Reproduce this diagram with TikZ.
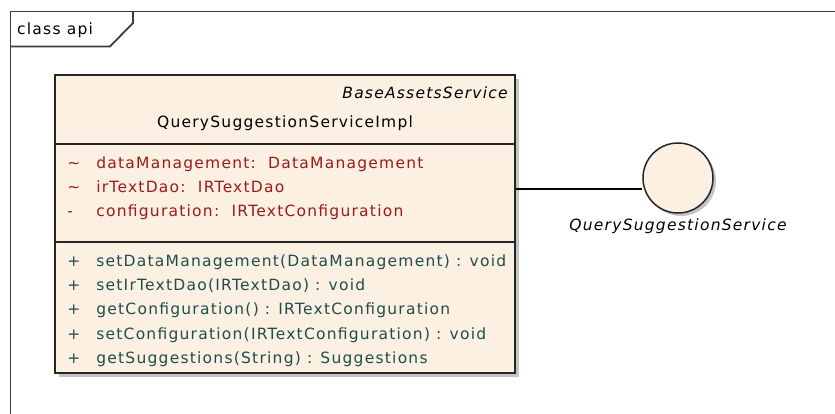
\documentclass[tikz,border=0pt]{standalone}
\usepackage{fontspec}
\setmainfont{DejaVu Sans}[LetterSpace=8]
\usepackage{tikz}
\usepackage{xcolor}
\usetikzlibrary{positioning,calc,shadows}
\definecolor{Frame}{HTML}{3C3C3C}
\definecolor{Cream}{HTML}{FBF0E1}
\definecolor{AttrRed}{HTML}{9E1A1A}
\definecolor{OpTeal}{HTML}{1E4E4C}
\definecolor{ShadowGrey}{HTML}{C4C4C4}

\begin{document}
\begin{tikzpicture}[
  x=1pt,y=-1pt,
  frame/.style={draw=Frame,line width=1.8pt},
  classbox/.style={draw=black!85,fill=Cream,line width=1.8pt,minimum width=460pt,minimum height=298pt,inner sep=0pt,
    drop shadow={shadow xshift=4pt,shadow yshift=-4pt,fill=ShadowGrey,opacity=1}},
  divider/.style={draw=black!85,line width=1.4pt},
  stereo/.style={inner sep=0pt,font=\fontsize{15.5}{18}\selectfont\itshape},
  clsname/.style={inner sep=0pt,font=\fontsize{15.5}{18}\selectfont},
  attr/.style={inner sep=0pt,minimum height=24pt,text height=11pt,text depth=3pt,text=AttrRed,font=\fontsize{15.5}{18}\selectfont},
  oper/.style={inner sep=0pt,minimum height=24pt,text height=11pt,text depth=3pt,text=OpTeal,font=\fontsize{15.5}{18}\selectfont},
  iface/.style={circle,draw=black!85,fill=Cream,line width=1.5pt,minimum size=70pt,inner sep=0pt,
    drop shadow={shadow xshift=3pt,shadow yshift=-3pt,fill=ShadowGrey,opacity=1}},
  ifacelabel/.style={inner sep=0pt,minimum height=24pt,font=\fontsize{15.5}{18}\selectfont\itshape},
  link/.style={draw=black,line width=1.4pt}
]
\useasboundingbox (0,0) rectangle (835,414);
% frame and its tab
\draw[frame] (10.5,430) -- (10.5,11.5) -- (850,11.5);
\node[clsname,anchor=west] (framelabel) at (17,30) {class api};
\coordinate (tabtop) at (133,11.5);
\draw[frame] (tabtop) -- (133,23) -- (110,46.5) -- (10.5,46.5);

% class
\node[classbox] (cls) at (285,224) {};
\node[stereo,anchor=east] (base) at ($(cls.north east)+(-8,19)$) {BaseAssetsService};
\node[clsname] (name) at ($(cls.north)+(0,49)$) {QuerySuggestionServiceImpl};
\coordinate (div1) at ($(cls.north west)+(0,70)$);
\coordinate (div2) at ($(cls.north west)+(0,168)$);
\draw[divider] (div1) -- (div1 -| cls.east);
\draw[divider] (div2) -- (div2 -| cls.east);

% attributes
\node[attr,anchor=west] (dm) at ($(cls.north west)+(13,90)$) {\makebox[29pt][l]{\char`\~}dataManagement:\ \ DataManagement};
\node[attr,below=0pt of dm.south west,anchor=north west] (dao) {\makebox[29pt][l]{\char`\~}irTextDao:\ \ IRTextDao};
\node[attr,below=0pt of dao.south west,anchor=north west] (conf) {\makebox[29pt][l]{-}configuration:\ \ IRTextConfiguration};

% operations
\node[oper,anchor=west] (setdm) at ($(cls.north west)+(13,188)$) {\makebox[29pt][l]{+}setDataManagement(DataManagement) : void};
\node[oper,below=0pt of setdm.south west,anchor=north west] (setdao) {\makebox[29pt][l]{+}setIrTextDao(IRTextDao) : void};
\node[oper,below=0pt of setdao.south west,anchor=north west] (getconf) {\makebox[29pt][l]{+}getConfiguration() : IRTextConfiguration};
\node[oper,below=0pt of getconf.south west,anchor=north west] (setconf) {\makebox[29pt][l]{+}setConfiguration(IRTextConfiguration) : void};
\node[oper,below=0pt of setconf.south west,anchor=north west] (getsugg) {\makebox[29pt][l]{+}getSuggestions(String) : Suggestions};

% interface
\node[iface] (qss) at (678,178) {};
\node[ifacelabel,below=0pt of qss] (qsslabel) {QuerySuggestionService};
\coordinate (lnk) at ($(cls.north east)+(0,115)$);
\draw[link] (lnk) -- (lnk -| qss.west);
\end{tikzpicture}
\end{document}
